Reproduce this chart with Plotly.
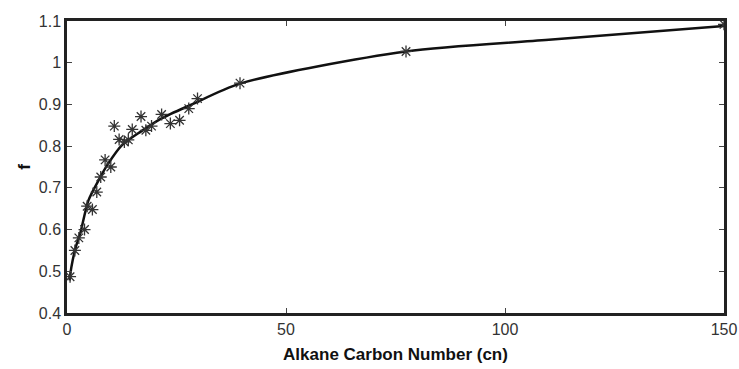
import plotly.graph_objects as go

# measured data points (alkane carbon number, f)
cn_data = [0.7, 1.8, 2.7, 4.0, 4.6, 5.8, 6.8, 7.7, 8.7, 10.0, 10.8, 11.9, 13.1, 14.0,
           14.9, 16.9, 18.0, 19.3, 21.6, 23.6, 25.7, 27.8, 29.8, 39.5, 77.4, 150.0]
f_data = [0.487, 0.55, 0.58, 0.60, 0.656, 0.648, 0.69, 0.726, 0.767, 0.75, 0.848, 0.816,
          0.81, 0.815, 0.84, 0.871, 0.838, 0.848, 0.876, 0.854, 0.862, 0.89, 0.914, 0.951,
          1.027, 1.092]

# fitted curve
cn_fit = [0.6, 1.0, 2.0, 3.0, 4.9, 7.2, 9.4, 12.5, 17.0, 21.5, 28.5, 39.5,
          77.4, 110.0, 150.0]
f_fit = [0.478, 0.51, 0.558, 0.59, 0.67, 0.718, 0.758, 0.802, 0.836, 0.866, 0.9,
         0.95, 1.027, 1.055, 1.088]

x_ticks = [0, 50, 100, 150]
y_ticks = [0.4, 0.5, 0.6, 0.7, 0.8, 0.9, 1.0, 1.1]
y_tick_text = ["0.4", "0.5", "0.6", "0.7", "0.8", "0.9", "1", "1.1"]

FONT = "Liberation Sans, Arial"

fig = go.Figure()
fig.add_trace(go.Scatter(x=cn_fit, y=f_fit, mode="lines",
                         line=dict(color="#111111", width=2.5, shape="spline", smoothing=0.8),
                         showlegend=False, hoverinfo="skip"))
fig.add_trace(go.Scatter(x=cn_data, y=f_data, mode="markers",
                         marker=dict(symbol="asterisk-open", size=10, color="#333333",
                                     line=dict(color="#333333", width=1.3)),
                         showlegend=False))

axis_common = dict(showgrid=False, zeroline=False, showline=True, linecolor="#222222",
                   linewidth=2.5, mirror="ticks", ticks="inside", ticklen=5,
                   tickcolor="#444444", tickwidth=1, automargin=False,
                   tickfont=dict(family=FONT, size=16, color="#333333"))

fig.update_xaxes(range=[0, 150], tickvals=x_ticks, **axis_common,
                 title=dict(text="<b>Alkane Carbon Number (cn)</b>",
                            font=dict(family=FONT, size=17, color="#111111"), standoff=12))
fig.update_yaxes(range=[0.4, 1.1], tickvals=y_ticks, ticktext=y_tick_text, **axis_common,
                 title=dict(text="<b>f</b>",
                            font=dict(family=FONT, size=17, color="#111111"), standoff=4))

fig.update_layout(width=739, height=369, margin=dict(l=67, r=15, t=21, b=56),
                  plot_bgcolor="white", paper_bgcolor="white")

fig.write_html("out.html")
